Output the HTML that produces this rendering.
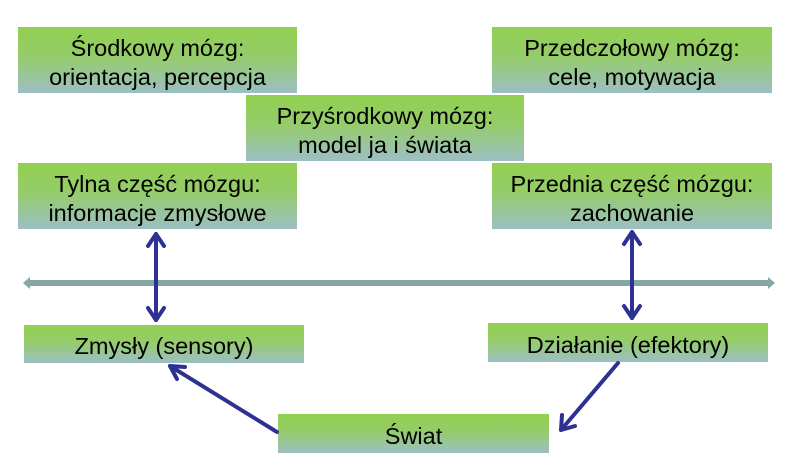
<!DOCTYPE html>
<html><head><meta charset="utf-8"><style>
body{margin:0;width:789px;height:473px;background:#fff;position:relative;overflow:hidden;font-family:"Liberation Sans",Arial,sans-serif}
.b{position:absolute;box-sizing:border-box;padding-top:5px;background:linear-gradient(#92d050 0%,#95cc6a 45%,#9cbfc4 100%);display:flex;align-items:center;justify-content:center;text-align:center;font-size:23.5px;line-height:29px;color:#000}
svg{position:absolute;left:0;top:0}
</style></head><body>
<div class="b" style="left:18px;top:27px;width:279px;height:66px">Środkowy mózg:<br>orientacja, percepcja</div>
<div class="b" style="left:492px;top:27px;width:280px;height:66px">Przedczołowy mózg:<br>cele, motywacja</div>
<div class="b" style="left:246px;top:95px;width:278px;height:66px">Przyśrodkowy mózg:<br>model ja i świata</div>
<div class="b" style="left:18px;top:163px;width:279px;height:66px">Tylna część mózgu:<br>informacje zmysłowe</div>
<div class="b" style="left:492px;top:163px;width:280px;height:66px">Przednia część mózgu:<br>zachowanie</div>
<div class="b" style="left:24px;top:325px;width:280px;height:38px">Zmysły (sensory)</div>
<div class="b" style="left:488px;top:323px;width:280px;height:39px">Działanie (efektory)</div>
<div class="b" style="left:278px;top:414px;width:271px;height:39px">Świat</div>
<svg width="789" height="473">
<line x1="28" y1="283" x2="770" y2="283" stroke="#86a6a6" stroke-width="6"/>
<polygon points="23,283 30,277 30,289" fill="#86a6a6"/><polygon points="775,283 768,277 768,289" fill="#86a6a6"/>
<g stroke="#2e3192" stroke-width="4" fill="none" stroke-linecap="round" stroke-linejoin="round">
<line x1="156" y1="234" x2="156" y2="320"/><polyline points="148,246 156,234 164,246"/><polyline points="148,308 156,320 164,308"/>
<line x1="632" y1="232" x2="632" y2="318"/><polyline points="624,244 632,232 640,244"/><polyline points="624,306 632,318 640,306"/>
<line x1="277" y1="432" x2="170" y2="366"/><polyline points="185,367 170,366 177,379"/>
<line x1="618" y1="363" x2="561" y2="430"/><polyline points="562,415 561,430 575,426"/>
</g>
</svg>
</body></html>
